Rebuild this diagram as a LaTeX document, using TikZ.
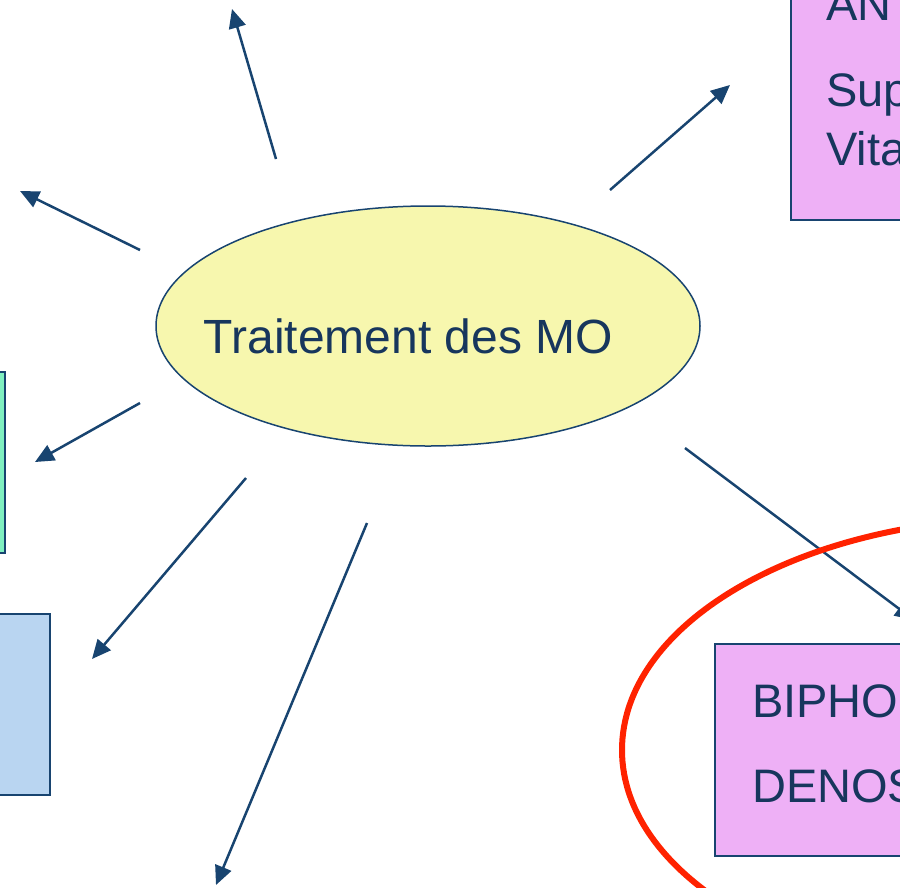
\documentclass[tikz,border=0pt]{standalone}
\usepackage{fontspec}
\setmainfont{Liberation Sans}
\usetikzlibrary{arrows.meta,shapes.geometric}
\definecolor{navytext}{HTML}{17365D}
\definecolor{navyline}{HTML}{184470}
\definecolor{ellfill}{HTML}{F7F7AE}
\definecolor{pinkfill}{HTML}{EEB0F6}
\definecolor{greenfill}{HTML}{80F0C0}
\definecolor{bluefill}{HTML}{B9D5F1}
\definecolor{redring}{HTML}{FF2200}
\tikzset{
  box/.style={draw=navyline, line width=1.5pt, rectangle, inner sep=0pt},
  boxtext/.style={anchor=base west, inner sep=0pt, text=navytext, font=\fontsize{47}{56}\selectfont},
  arr/.style={draw=navyline, line width=2.5pt, -{Triangle[length=19pt,width=17pt]}}
}
\begin{document}
\begin{tikzpicture}[x=1pt,y=-1pt]
\useasboundingbox (0,0) rectangle (900,887);
\clip (0,0) rectangle (900,887);
% boxes
\node[box, fill=pinkfill, minimum width=300pt, minimum height=300pt] (topbox) at (941,70) {};
\node[box, fill=pinkfill, minimum width=300pt, minimum height=212pt] (botbox) at (865,750) {};
\node[box, fill=greenfill, minimum width=205pt, minimum height=181pt] (greenbox) at (-97.5,462.5) {};
\node[box, fill=bluefill, minimum width=250pt, minimum height=181pt] (bluebox) at (-75,704.5) {};
% box texts
\node[boxtext] (tAN) at (826,20.5) {AN};
\node[boxtext] (tSup) at (826,106) {Sup};
\node[boxtext] (tVita) at (826,165) {Vita};
\node[boxtext] (tBIPHO) at (752,717) {BIPHO};
\node[boxtext] (tDENOS) at (752,802) {DENOS};
% central ellipse
\node[ellipse, draw=navyline, line width=1.5pt, fill=ellfill, minimum width=544pt, minimum height=240pt, inner sep=0pt] (mo) at (428,326) {};
\node[inner sep=0pt, text=navytext, font=\fontsize{48}{58}\selectfont, anchor=base] (mot) at (408.5,353) {Traitement des MO};
% arrow endpoints
\coordinate (s1) at (276,159); \coordinate (e1) at (232,9);
\coordinate (s2) at (610,190); \coordinate (e2) at (730,85);
\coordinate (s3) at (140,250); \coordinate (e3) at (20,191);
\coordinate (s4) at (140,403); \coordinate (e4) at (35,462);
\coordinate (s5) at (246,478); \coordinate (e5) at (92,659);
\coordinate (s6) at (367,523); \coordinate (e6) at (216,885);
\coordinate (s7) at (685,448); \coordinate (e7) at (914,620);
\draw[arr] (s1) -- (e1);
\draw[arr] (s2) -- (e2);
\draw[arr] (s3) -- (e3);
\draw[arr] (s4) -- (e4);
\draw[arr] (s5) -- (e5);
\draw[arr] (s6) -- (e6);
\draw[arr] (s7) -- (e7);
% red ring
\coordinate (ringc) at (1028,750);
\draw[redring, line width=6pt] (ringc) ellipse [x radius=406pt, y radius=232pt];
\end{tikzpicture}
\end{document}
